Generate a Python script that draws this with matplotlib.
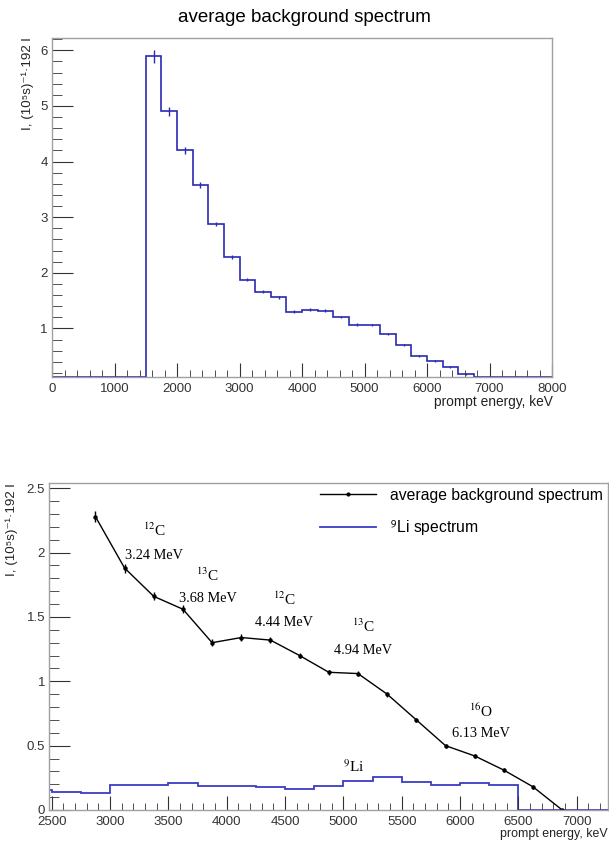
import numpy as np
import matplotlib
matplotlib.use("Agg")
import matplotlib.pyplot as plt
from matplotlib.ticker import MultipleLocator, FormatStrFormatter
from matplotlib.lines import Line2D

plt.rcParams['font.family'] = ['Liberation Sans', 'DejaVu Sans']
plt.rcParams['mathtext.fontset'] = 'stix'

# average background spectrum, 250 keV bins from 0 to 8000 keV
bin_edges = np.arange(0, 8001, 250)
bg_values = [0, 0, 0, 0, 0, 0,
             5.89, 4.90, 4.20, 3.58, 2.88, 2.28, 1.88, 1.66, 1.56, 1.30,
             1.34, 1.32, 1.20, 1.07, 1.06, 0.90, 0.70, 0.50, 0.42, 0.31,
             0.18, 0, 0, 0, 0, 0]
bg_errors = [0, 0, 0, 0, 0, 0,
             0.12, 0.08, 0.06, 0.05, 0.04, 0.04, 0.035, 0.03, 0.03, 0.025,
             0.025, 0.025, 0.02, 0.02, 0.02, 0.02, 0.018, 0.016, 0.015, 0.015,
             0.015, 0, 0, 0, 0, 0]

# 9Li spectrum, 250 keV bins from 2250 to 7500 keV
li_edges = np.arange(2250, 7501, 250)
li_values = [0.155, 0.137, 0.130, 0.193, 0.193, 0.213, 0.188, 0.188, 0.175,
             0.165, 0.187, 0.227, 0.258, 0.214, 0.194, 0.212, 0.194,
             0, 0, 0, 0]

# nuclear line annotations (energy keV, height, text)
lines_x = [3378, 3836, 4492, 5170, 6176]
lines_iso = [r"$^{12}$C", r"$^{13}$C", r"$^{12}$C", r"$^{13}$C", r"$^{16}$O"]
lines_iso_y = [2.17, 1.82, 1.64, 1.425, 0.767]
lines_mev = ["3.24 MeV", "3.68 MeV", "4.44 MeV", "4.94 MeV", "6.13 MeV"]
lines_mev_y = [1.975, 1.64, 1.46, 1.24, 0.596]

ylab = "I, (10\u2075s)\u207b\u00b9\u00b7192 l"
frame_col = '#a0a0a0'
blue = '#2a2ab4'
li_blue = '#3c3cc4'

W, H = 609, 841
fig = plt.figure(figsize=(W / 100, H / 100), dpi=100)


def px_axes(l, t, r, b):
    return fig.add_axes([l / W, 1 - b / H, (r - l) / W, (b - t) / H])


def style(ax):
    for s in ax.spines.values():
        s.set_color(frame_col)
        s.set_linewidth(1.0)
    ax.tick_params(which='both', direction='in', top=False, right=False,
                   labelsize=9.5, colors='#333333', pad=3)
    ax.tick_params(axis='x', which='major', length=10, pad=4)
    ax.tick_params(axis='x', which='minor', length=5)
    ax.tick_params(axis='y', which='major', length=15)
    ax.tick_params(axis='y', which='minor', length=7.5)
    ax.yaxis.set_major_formatter(FormatStrFormatter('%g'))


# ---- top panel ----
ax1 = px_axes(52, 38, 552, 377)
ymin1 = 0.128
centers = (bin_edges[:-1] + bin_edges[1:]) / 2
vals = np.array(bg_values)
ax1.stairs(np.maximum(vals, ymin1), bin_edges, color=blue, lw=1.2)
m = vals > 0
ax1.errorbar(centers[m], vals[m], yerr=np.array(bg_errors)[m], fmt='none',
             ecolor=blue, elinewidth=1.0)
ax1.set_xlim(0, 8000)
ax1.set_ylim(ymin1, 6.22)
ax1.xaxis.set_major_locator(MultipleLocator(1000))
ax1.xaxis.set_minor_locator(MultipleLocator(200))
ax1.yaxis.set_major_locator(MultipleLocator(1))
ax1.yaxis.set_minor_locator(MultipleLocator(0.2))
style(ax1)
fig.text(304 / W, 1 - 17 / H, "average background spectrum", ha='center',
         va='center', fontsize=13.5)
fig.text(553 / W, 1 - 402 / H, "prompt energy, keV", ha='right',
         va='center', fontsize=9.9, color='#222222')
fig.text(28 / W, 1 - 38 / H, ylab, rotation=90, ha='center', va='top',
         fontsize=9.6, color='#222222')

# ---- bottom panel ----
ax2 = px_axes(49.3, 482.7, 608.3, 810)
sel = (centers > 2750) & (centers < 7000)
ax2.errorbar(centers[sel], vals[sel], yerr=np.array(bg_errors)[sel],
             color='black', lw=1.0, marker='o', ms=2.2, elinewidth=1.0)
ax2.stairs(li_values, li_edges, color=li_blue, lw=1.3)
ax2.set_xlim(2480, 7270)
ax2.set_ylim(0, 2.543)
ax2.xaxis.set_major_locator(MultipleLocator(500))
ax2.xaxis.set_minor_locator(MultipleLocator(100))
ax2.yaxis.set_major_locator(MultipleLocator(0.5))
ax2.yaxis.set_minor_locator(MultipleLocator(0.1))
style(ax2)

for x, t, ty, e, ey in zip(lines_x, lines_iso, lines_iso_y, lines_mev, lines_mev_y):
    ax2.text(x, ty, t, ha='center', va='center', fontsize=11,
             family='Liberation Serif')
    ax2.text(x, ey, e, ha='center', va='center', fontsize=10.3,
             family='Liberation Serif')
ax2.text(5087, 0.333, r"$^{9}$Li", ha='center', va='center', fontsize=11,
         family='Liberation Serif')

handles = [Line2D([], [], color='black', lw=1.0, marker='o', ms=2.0),
           Line2D([], [], color=li_blue, lw=1.3)]
labels = ["average background spectrum", r"$^{\mathsf{9}}$Li spectrum"]
ax2.legend(handles, labels, loc='upper left', bbox_to_anchor=(0.484, 0.985),
           frameon=False, fontsize=11.3, handlelength=3.6, handletextpad=0.9,
           labelspacing=1.0, borderpad=0, borderaxespad=0)
fig.text(608 / W, 1 - 834 / H, "prompt energy, keV", ha='right',
         va='center', fontsize=8.9, color='#222222')
fig.text(12 / W, 1 - 483 / H, ylab, rotation=90, ha='center', va='top',
         fontsize=9.6, color='#222222')

fig.savefig("out.png", dpi=100)
